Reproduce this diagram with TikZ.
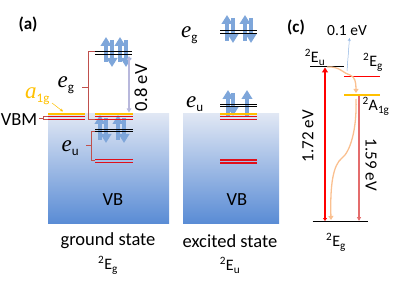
\documentclass[tikz,border=0pt]{standalone}
\usepackage{fontspec}
\setmainfont{Carlito}
\newfontfamily\eitfont{Liberation Serif}
\usetikzlibrary{arrows.meta}
\definecolor{lvred}{HTML}{E0101A}
\definecolor{lvorange}{HTML}{FFC000}
\definecolor{spinblue}{HTML}{7EA6DA}
\definecolor{brred}{HTML}{C0504D}
\definecolor{vbtop}{HTML}{E0E7F4}
\definecolor{vbbot}{HTML}{5A8CD5}
\definecolor{lav}{HTML}{B8B8DC}
\definecolor{peach}{HTML}{FAC090}
\definecolor{pinkred}{HTML}{E46C6C}
\definecolor{thinblue}{HTML}{8DB3E2}
\newcommand\elabel[2]{{\fontsize{23}{24}\selectfont\eitfont\itshape #1}{\fontsize{13}{14}\selectfont\raisebox{-4pt}{#2}}}
\begin{document}
\begin{tikzpicture}[x=1pt,y=-1pt,
  lvl/.style={line width=1.1pt},
  spin/.style={spinblue, line width=3.6pt, -{Triangle[width=10.5pt,length=9pt]}},
  brk/.style={brred, line width=0.6pt},
  txt/.style={inner sep=0pt, font=\fontsize{18.5}{20}\selectfont},
  small/.style={inner sep=0pt, font=\fontsize{16}{18}\selectfont},
  elab/.style={inner sep=0pt, anchor=base west},
]
\useasboundingbox (0,0) rectangle (395,296);
% VB boxes
\shade[top color=vbtop, bottom color=vbbot] (48,114) rectangle (169,223);
\shade[top color=vbtop, bottom color=vbbot] (183,114) rectangle (279,223);
\node[txt] (vb1) at (113,200) {VB};
\node[txt] (vb2) at (237,200) {VB};
\node[txt] (gs) at (108,241) {ground state};
\node[small] (gsl) at (108,265) {\textsuperscript{2}E\textsubscript{g}};
\node[txt] (es) at (230,241) {excited state};
\node[small] (esl) at (230,265) {\textsuperscript{2}E\textsubscript{u}};
\node[inner sep=0pt, font=\fontsize{17}{18}\selectfont\bfseries] (pa) at (28,24) {(a)};
\node[txt, anchor=east] (vbm) at (37.5,120) {VBM};
% spin arrows (ground)
\draw[spin] (106,62) -- (106,37);
\draw[spin] (112,40) -- (112,67);
\draw[spin] (120,62) -- (120,37);
\draw[spin] (126,40) -- (126,67);
\draw[spin] (100,140) -- (100,115);
\draw[spin] (106,118) -- (106,143);
\draw[spin] (118,140) -- (118,115);
\draw[spin] (124,118) -- (124,143);
% spin arrows (excited)
\draw[spin] (227,41) -- (227,15);
\draw[spin] (233,18) -- (233,43);
\draw[spin] (245,41) -- (245,15);
\draw[spin] (251,18) -- (251,43);
\draw[spin] (228,116) -- (228,90);
\draw[spin] (233,93) -- (233,116);
\draw[spin] (247,116) -- (247,90);
% levels ground
\draw[lvl, lvorange, line width=1.5pt] (48,114) -- (85,114);
\draw[lvl, lvred] (48,116.5) -- (85,116.5);
\draw[lvl, lvred] (48,119.3) -- (85,119.3);
\draw[lvl, lvorange, line width=1.5pt] (95,114) -- (133,114);
\draw[lvl, lvred] (95,116.5) -- (133,116.5);
\draw[lvl, lvred] (95,119.3) -- (133,119.3);
\draw[lvl] (95,51.7) -- (132,51.7);
\draw[lvl] (95,54.2) -- (132,54.2);
\draw[lvl] (95,129.3) -- (133,129.3);
\draw[lvl] (95,131.8) -- (133,131.8);
\draw[lvl, lvred] (95,159.5) -- (133,159.5);
\draw[lvl, lvred] (95,162.5) -- (133,162.5);
% levels excited
\draw[lvl] (220,30.7) -- (257,30.7);
\draw[lvl] (220,33.2) -- (257,33.2);
\draw[lvl] (220,104.3) -- (257,104.3);
\draw[lvl] (220,106.8) -- (257,106.8);
\draw[lvl, lvorange, line width=1.5pt] (220,114) -- (257,114);
\draw[lvl, lvred] (220,116.5) -- (257,116.5);
\draw[lvl, lvred] (220,119.3) -- (257,119.3);
\draw[lvl, lvred] (220,160) -- (257,160);
\draw[lvl, lvred] (220,163) -- (257,163);
% brackets
\draw[brk] (95,51.7) -- (88,51.7) -- (88,119.3) -- (95,119.3);
\draw[brk] (88,87) -- (82,87);
\draw[brk] (95,131.5) -- (91.7,131.5) -- (91.7,160.5) -- (95,160.5);
\draw[brk] (91.7,145) -- (86,145);
\draw[brk] (48,116.5) -- (43,116.5) -- (43,119.3) -- (48,119.3);
\draw[brk] (43,118) -- (38.5,118);
% labels e
\node[elab] (eg1) at (57.5,88) {\elabel{e}{g}};
\node[elab] (eu1) at (61.5,152) {\elabel{e}{u}};
\node[elab] (eg2) at (181,38) {\elabel{e}{g}};
\node[elab] (eu2) at (186,108) {\elabel{e}{u}};
\node[elab, lvorange] (a1g) at (25,99) {\elabel{a}{1g}};
\coordinate (a1gend) at (63,111.5);
\draw[lvorange, line width=0.5pt, -{Stealth[length=3pt,width=3pt]}] (52,103) -- (a1gend);
% 0.8 eV
\coordinate (g1) at (129,56);
\coordinate (g2) at (129,112.5);
\draw[lav, line width=1.3pt, {Triangle[width=4.5pt,length=4pt]}-{Triangle[width=4.5pt,length=4pt]}] (g1) -- (g2);
\node[txt, rotate=90] (e08) at (141,88) {0.8 eV};
% panel c
\node[inner sep=0pt, font=\fontsize{17}{18}\selectfont\bfseries] (pc) at (296,27) {(c)};
\node[inner sep=0pt, font=\fontsize{15.5}{17}\selectfont] (e01) at (347,31) {0.1 eV};
\node[inner sep=0pt, font=\fontsize{16}{17}\selectfont] (leu) at (315,57) {\textsuperscript{2}E\textsubscript{u}};
\node[inner sep=0pt, font=\fontsize{16}{17}\selectfont] (leg) at (373,62) {\textsuperscript{2}E\textsubscript{g}};
\node[inner sep=0pt, font=\fontsize{16}{17}\selectfont] (la) at (376,106) {\textsuperscript{2}A\textsubscript{1g}};
\node[inner sep=0pt, font=\fontsize{16}{17}\selectfont] (lg) at (336,242) {\textsuperscript{2}E\textsubscript{g}};
\draw[line width=1.2pt] (310,66.7) -- (344,66.7);
\draw[line width=1.2pt, red] (344,76.7) -- (380,76.7);
\draw[line width=1.2pt, lvorange] (344,95) -- (380,95);
\draw[line width=1.2pt] (312.7,221.7) -- (368,221.7);
\coordinate (r1) at (325,221);
\coordinate (r2) at (325,67.5);
\draw[red, line width=1.6pt, {Triangle[width=4pt,length=3pt]}-{Triangle[width=6pt,length=5pt]}] (r1) -- (r2);
\coordinate (p1) at (359,96);
\coordinate (p2) at (359,221);
\draw[pinkred, line width=1.2pt, -{Triangle[width=4pt,length=4pt]}] (p1) -- (p2);
\node[inner sep=0pt, font=\fontsize{17}{18}\selectfont, rotate=90] (e172) at (308,136) {1.72 eV};
\node[inner sep=0pt, font=\fontsize{17}{18}\selectfont, rotate=-90] (e159) at (371,165) {1.59 eV};
\coordinate (b1) at (347,71);
\coordinate (b2) at (349.5,38);
\draw[thinblue, line width=0.5pt, -{Stealth[length=3pt,width=3pt]}] (b1) -- (b2);
\draw[peach, line width=1.3pt, -{Triangle[width=5pt,length=4pt]}] (327,67) .. controls (340,66) and (344,74) .. (350,75) .. controls (355,77) and (356,82) .. (356,93);
\draw[peach, line width=1.3pt, -{Triangle[width=5pt,length=4pt]}] (356,99) .. controls (357,130) and (350,152) .. (342,158) .. controls (333,165) and (330,185) .. (331,220);
\end{tikzpicture}
\end{document}
